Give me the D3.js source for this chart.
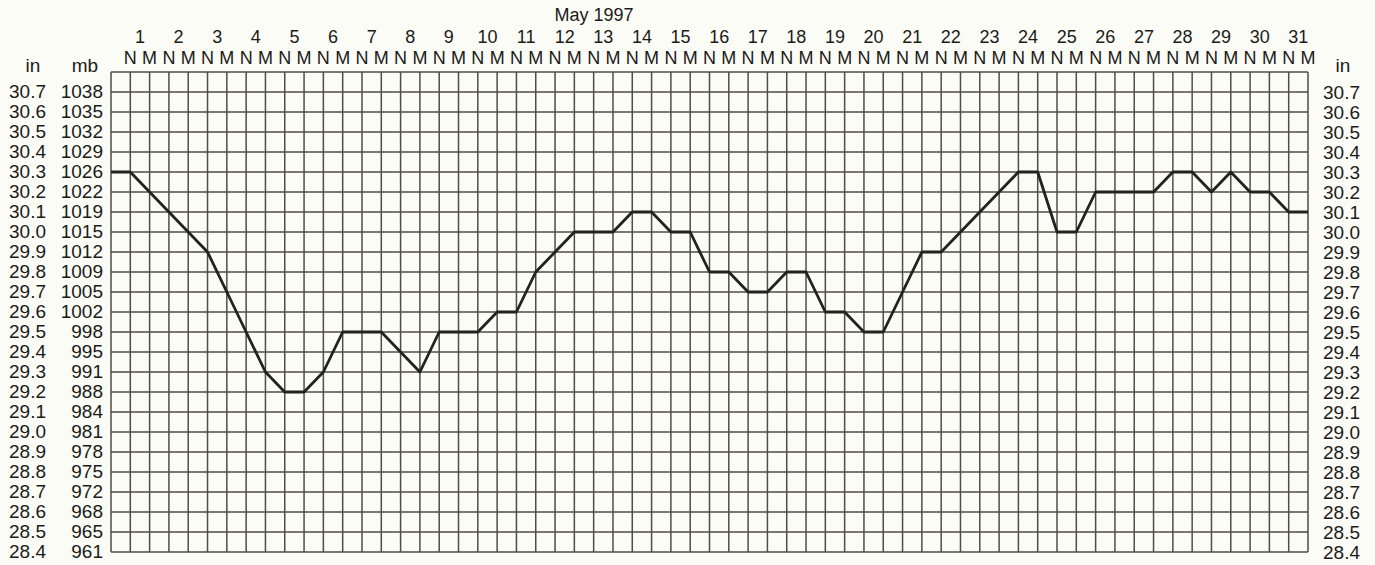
<!DOCTYPE html>
<html>
<head>
<meta charset="utf-8">
<script src="https://cdn.jsdelivr.net/npm/d3@7"></script>
<style>
  html, body { margin: 0; padding: 0; background: #fcfcf7; }
  svg { display: block; }
  text { font-family: "Liberation Sans", Arial, Helvetica, sans-serif; fill: #1b1b18; }
</style>
</head>
<body>
<svg id="chart" width="1375" height="565"></svg>
<script>
// Barometric pressure, May 1997 — noon (N) and midnight (M) readings.
// First value is the reading carried in at the start of the month.
const pressureIn = [
  30.3,
  30.3, 30.2, 30.1, 30.0, 29.9, 29.7, 29.5, 29.3, 29.2, 29.2,
  29.3, 29.5, 29.5, 29.5, 29.4, 29.3, 29.5, 29.5, 29.5, 29.6,
  29.6, 29.8, 29.9, 30.0, 30.0, 30.0, 30.1, 30.1, 30.0, 30.0,
  29.8, 29.8, 29.7, 29.7, 29.8, 29.8, 29.6, 29.6, 29.5, 29.5,
  29.7, 29.9, 29.9, 30.0, 30.1, 30.2, 30.3, 30.3, 30.0, 30.0,
  30.2, 30.2, 30.2, 30.2, 30.3, 30.3, 30.2, 30.3, 30.2, 30.2,
  30.1, 30.1
];
const days = d3.range(1, 32);
const readingLabels = days.flatMap(() => ["N", "M"]);
const inchTicks = [30.7, 30.6, 30.5, 30.4, 30.3, 30.2, 30.1, 30.0, 29.9, 29.8, 29.7, 29.6,
                   29.5, 29.4, 29.3, 29.2, 29.1, 29.0, 28.9, 28.8, 28.7, 28.6, 28.5, 28.4];
const mbTicks = [1038, 1035, 1032, 1029, 1026, 1022, 1019, 1015, 1012, 1009, 1005, 1002,
                 998, 995, 991, 988, 984, 981, 978, 975, 972, 968, 965, 961];
const title = "May 1997";

const svg = d3.select("#chart");
const plotLeft = 111, plotRight = 1308, plotTop = 72, plotBottom = 552;

const x = d3.scaleLinear().domain([0, readingLabels.length]).range([plotLeft, plotRight]);
const y = d3.scaleLinear().domain([28.4, 30.8]).range([plotBottom, plotTop]);

const gridColor = "#4e4e45";

// Grid: one column per reading, one row per 0.1 inHg
const g = svg.append("g");
g.selectAll("line.v")
  .data(d3.range(0, readingLabels.length + 1))
  .join("line")
  .attr("x1", d => x(d)).attr("x2", d => x(d))
  .attr("y1", plotTop).attr("y2", plotBottom)
  .attr("stroke", gridColor).attr("stroke-width", 1.5);

const rows = d3.range(0, 25).map(k => +(28.4 + k * 0.1).toFixed(1));
g.selectAll("line.h")
  .data(rows)
  .join("line")
  .attr("x1", plotLeft).attr("x2", plotRight)
  .attr("y1", d => y(d)).attr("y2", d => y(d))
  .attr("stroke", gridColor).attr("stroke-width", 1.5);

// Pressure trace
const line = d3.line().x((d, i) => x(i)).y(d => y(d));
svg.append("path")
  .datum(pressureIn)
  .attr("d", line)
  .attr("fill", "none")
  .attr("stroke", "#22221e")
  .attr("stroke-width", 2.8)
  .attr("stroke-linejoin", "round");

// Left axis: inches and millibars
const fs = 19;
svg.append("text").attr("x", 33).attr("y", 72).attr("text-anchor", "middle")
  .attr("font-size", fs).text("in");
svg.append("text").attr("x", 85).attr("y", 72).attr("text-anchor", "middle")
  .attr("font-size", fs).text("mb");

svg.selectAll("text.inL")
  .data(inchTicks)
  .join("text")
  .attr("x", 9).attr("y", d => y(d) + 6)
  .attr("font-size", fs)
  .text(d => d.toFixed(1));

svg.selectAll("text.mbL")
  .data(mbTicks)
  .join("text")
  .attr("x", 103).attr("y", (d, i) => y(inchTicks[i]) + 6)
  .attr("text-anchor", "end")
  .attr("font-size", fs)
  .text(d => d);

// Right axis: inches
svg.append("text").attr("x", 1343).attr("y", 72).attr("text-anchor", "middle")
  .attr("font-size", fs).text("in");
svg.selectAll("text.inR")
  .data(inchTicks)
  .join("text")
  .attr("x", 1323).attr("y", d => y(d) + 7)
  .attr("font-size", fs)
  .text(d => d.toFixed(1));

// Top: title, day numbers, noon/midnight markers
svg.append("text").attr("x", 594).attr("y", 21).attr("text-anchor", "middle")
  .attr("font-size", 18).text(title);

svg.selectAll("text.day")
  .data(days)
  .join("text")
  .attr("x", (d, i) => x(2 * i + 1.5))
  .attr("y", 43)
  .attr("text-anchor", "middle")
  .attr("font-size", 18)
  .text(d => d);

svg.selectAll("text.nm")
  .data(readingLabels)
  .join("text")
  .attr("x", (d, i) => x(i + 1))
  .attr("y", 64)
  .attr("text-anchor", "middle")
  .attr("font-size", 18)
  .text(d => d);
</script>
</body>
</html>
